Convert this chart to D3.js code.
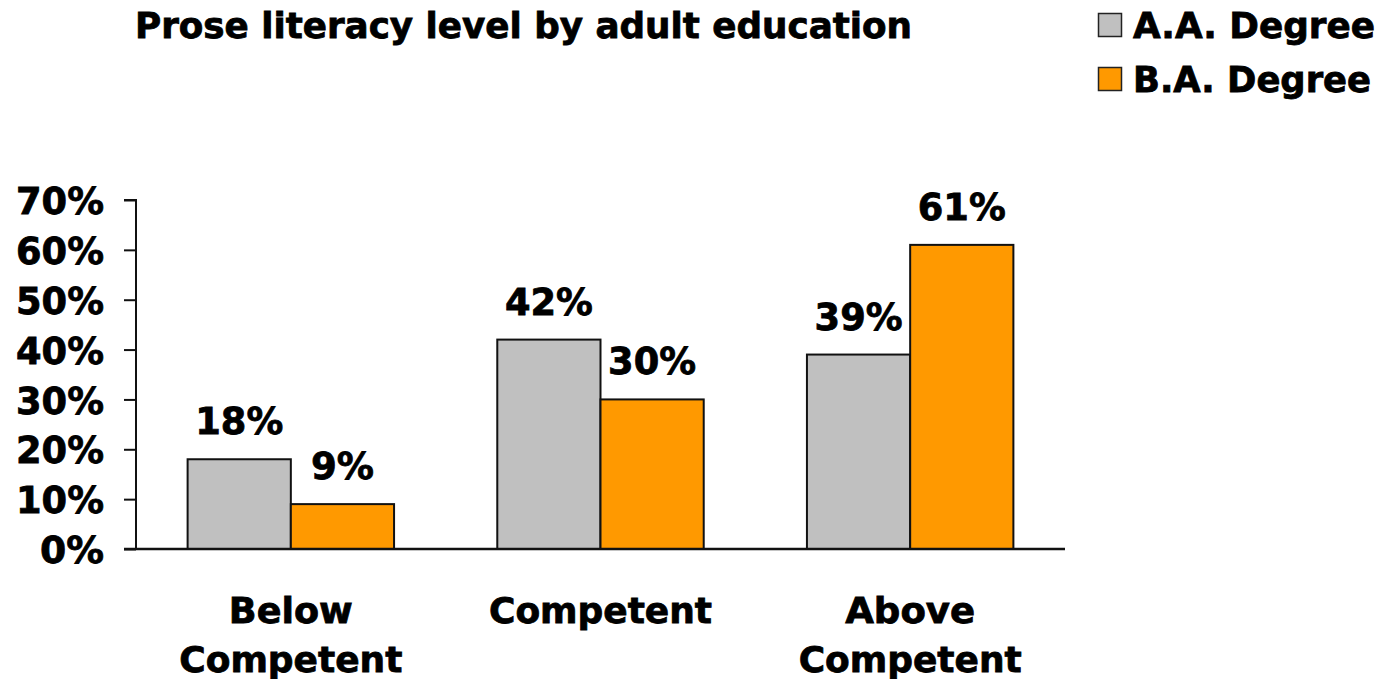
<!DOCTYPE html>
<html>
<head>
<meta charset="utf-8">
<script src="https://cdn.jsdelivr.net/npm/d3@7"></script>
<style>
  html, body { margin: 0; padding: 0; background: #fff; }
  svg text { font-family: "DejaVu Sans", "Liberation Sans", sans-serif; font-weight: bold; fill: #000;
             stroke: #000; stroke-width: 0.8px; }
</style>
</head>
<body>
<svg id="chart" width="1382" height="679"></svg>
<script>
const title = "Prose literacy level by adult education";
const categories = [["Below", "Competent"], ["Competent"], ["Above", "Competent"]];
const seriesNames = ["A.A. Degree", "B.A. Degree"];
const aaValues = [18, 42, 39];
const baValues = [9, 30, 61];
const tickValues = [0, 10, 20, 30, 40, 50, 60, 70];
const colors = ["#c0c0c0", "#ff9900"];

const svg = d3.select("#chart");
const catKeys = categories.map(c => c.join(" "));
const seriesValues = [aaValues, baValues];

const y = d3.scaleLinear().domain([0, 70]).range([549, 200]);
const x0 = d3.scaleBand().domain(catKeys).range([136, 1065]).padding(0);
const x1 = d3.scaleBand().domain(seriesNames).range([0, x0.bandwidth()])
  .paddingInner(0).paddingOuter(0.5);

// Title
svg.append("text").attr("x", 135).attr("y", 38)
  .attr("font-size", 35).attr("textLength", 777).attr("lengthAdjust", "spacingAndGlyphs")
  .text(title);

// Legend
const legend = svg.append("g");
seriesNames.forEach((name, i) => {
  const ly = 13 + i * 54;
  legend.append("rect").attr("x", 1098.5).attr("y", ly + 0.5).attr("width", 23).attr("height", 23)
    .attr("fill", colors[i]).attr("stroke", "#222").attr("stroke-width", 1.5);
  legend.append("text").attr("x", 1133).attr("y", ly + 25)
    .attr("font-size", 35).attr("textLength", i === 0 ? 242 : 238).attr("lengthAdjust", "spacingAndGlyphs")
    .text(name);
});

// Bars
const groups = svg.append("g").selectAll("g").data(catKeys).join("g")
  .attr("transform", d => `translate(${x0(d)},0)`);

groups.each(function(cat, ci) {
  const g = d3.select(this);
  seriesNames.forEach((s, si) => {
    const v = seriesValues[si][ci];
    g.append("rect")
      .attr("x", x1(s)).attr("y", y(v))
      .attr("width", x1.bandwidth()).attr("height", y(0) - y(v))
      .attr("fill", colors[si]).attr("stroke", "#111").attr("stroke-width", 2);
    g.append("text")
      .attr("x", x1(s) + x1.bandwidth() / 2).attr("y", y(v) - 25)
      .attr("text-anchor", "middle").attr("font-size", 37)
      .attr("textLength", String(v).length === 1 ? 63 : 88).attr("lengthAdjust", "spacingAndGlyphs")
      .text(v + "%");
  });
});

// Y axis
const yAxis = d3.axisLeft(y).tickValues(tickValues).tickSize(12).tickPadding(20)
  .tickFormat(d => d + "%");
const ya = svg.append("g").attr("transform", "translate(136,0)").call(yAxis);
ya.select(".domain").attr("stroke", "#111").attr("stroke-width", 2).attr("d", "M-12,200H0V549");
ya.selectAll(".tick line").attr("stroke", "#111").attr("stroke-width", 2);
ya.selectAll(".tick text").attr("font-size", 37).attr("dy", "0.37em")
  .attr("font-family", "DejaVu Sans").attr("font-weight", "bold").attr("fill", "#000")
  .each(function(d) {
    d3.select(this).attr("textLength", d === 0 ? 64 : 88).attr("lengthAdjust", "spacingAndGlyphs");
  });

// X axis baseline
const xAxis = d3.axisBottom(x0).tickSize(0).tickFormat("");
const xa = svg.append("g").attr("transform", "translate(0,549)").call(xAxis);
xa.select(".domain").attr("stroke", "#111").attr("stroke-width", 2.5).attr("d", "M124,0H1065");

// Category labels
categories.forEach((lines, ci) => {
  const cx = x0(catKeys[ci]) + x0.bandwidth() / 2;
  lines.forEach((line, li) => {
    svg.append("text").attr("x", cx).attr("y", 623 + li * 49)
      .attr("text-anchor", "middle").attr("font-size", 36)
      .attr("textLength", line === "Competent" ? 223 : (line === "Below" ? 124 : 130))
      .attr("lengthAdjust", "spacingAndGlyphs")
      .text(line);
  });
});
</script>
</body>
</html>
